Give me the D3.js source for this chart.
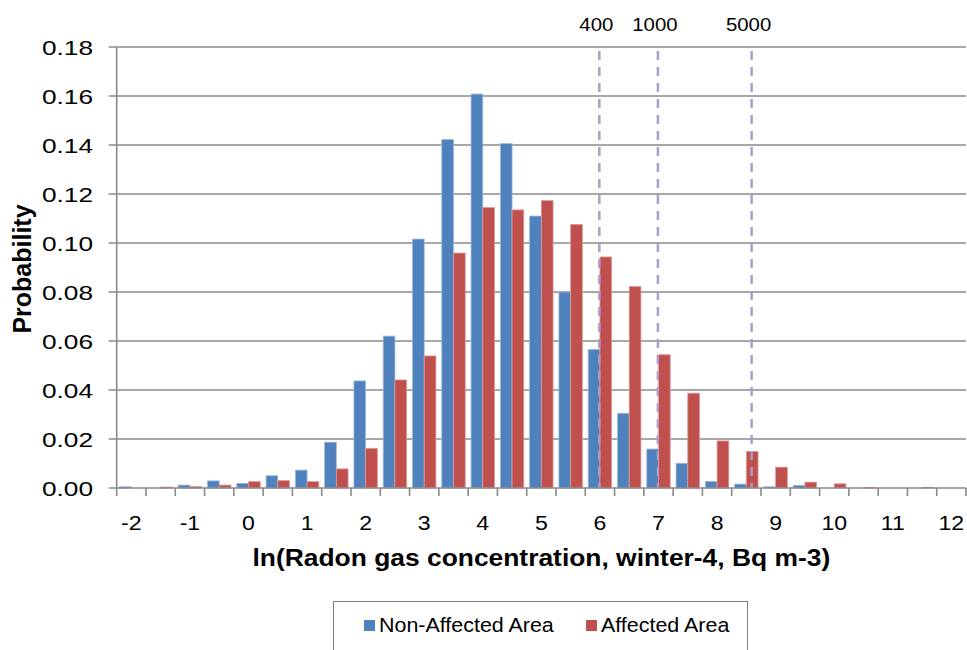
<!DOCTYPE html>
<html>
<head>
<meta charset="utf-8">
<script src="https://cdn.jsdelivr.net/npm/d3@7"></script>
<style>
  body { margin: 0; background: #fff; }
  text { font-family: "Liberation Sans", Arial, sans-serif; fill: #000; }
</style>
</head>
<body>
<div id="chart"></div>
<script>
// bins of ln(concentration), width 0.5
var categories = [-2, -1.5, -1, -0.5, 0, 0.5, 1, 1.5, 2, 2.5, 3, 3.5, 4, 4.5, 5, 5.5,
                  6, 6.5, 7, 7.5, 8, 8.5, 9, 9.5, 10, 10.5, 11, 11.5, 12];
var nonAffected = [0.0005, 0, 0.0012, 0.0029, 0.0019, 0.005, 0.0073, 0.0187, 0.0437, 0.062,
                   0.1016, 0.1422, 0.1608, 0.1406, 0.111, 0.080, 0.0565, 0.0305, 0.0159, 0.0101,
                   0.0027, 0.0016, 0.0005, 0.0011, 0, 0, 0, 0, 0];
var affected = [0, 0.0004, 0.0006, 0.0012, 0.0026, 0.003, 0.0026, 0.0078, 0.0162, 0.0441,
                0.0539, 0.0959, 0.1145, 0.1135, 0.1173, 0.1076, 0.0943, 0.0822, 0.0544, 0.0387,
                0.0192, 0.0149, 0.0085, 0.0024, 0.0017, 0.0003, 0, 0.0003, 0];
var yTicks = [0, 0.02, 0.04, 0.06, 0.08, 0.10, 0.12, 0.14, 0.16, 0.18];
var xTickLabels = [-2, -1, 0, 1, 2, 3, 4, 5, 6, 7, 8, 9, 10, 11, 12];
var refLabels = ["400", "1000", "5000"];
var refValues = [5.99, 6.99, 8.59];
var seriesNames = ["Non-Affected Area", "Affected Area"];
var seriesColors = ["#4F81BD", "#C0504D"];
var seriesStroke = ["#9fbbdc", "#dc9a98"];

(function() {
    var width = 967, height = 650;
    var pL = 116.7, pR = 966, pT = 47, pB = 488;

    var svg = d3.select("#chart").append("svg")
        .attr("width", width).attr("height", height);

    var x = d3.scaleBand().domain(categories).range([pL, pR]).padding(0);
    var bw = x.bandwidth();
    var barW = bw / 2.5;
    var xs = d3.scaleBand().domain([0, 1]).range([barW * 0.25, bw - barW * 0.25]).padding(0);
    var xc = d3.scaleLinear().domain([-2, 12]).range([x(-2) + bw / 2, x(12) + bw / 2]);
    var y = d3.scaleLinear().domain([0, 0.18]).range([pB, pT]);

    // glyphs in the picture are a bit wide, so stretch horizontally
    function label(parent, px, py, str, size, anchor, weight, sx) {
        return parent.append("text")
            .attr("transform", "translate(" + px + "," + py + ") scale(" + (sx || 1.1) + ",1)")
            .attr("text-anchor", anchor || "middle")
            .style("font-size", size + "px")
            .style("font-weight", weight || "normal")
            .text(str);
    }

    // gridlines
    svg.append("g").selectAll("line").data(yTicks.slice(1)).enter().append("line")
        .attr("x1", pL - 8).attr("x2", pR)
        .attr("y1", function(d) { return y(d); }).attr("y2", function(d) { return y(d); })
        .attr("stroke", "#8a8a8a").attr("stroke-width", 1.6);

    // bars
    var groups = svg.append("g").selectAll("g").data(categories).enter().append("g")
        .attr("transform", function(d) { return "translate(" + x(d) + ",0)"; });
    [nonAffected, affected].forEach(function(vals, s) {
        groups.append("rect")
            .attr("x", xs(s))
            .attr("width", xs.bandwidth())
            .attr("y", function(d, i) { return y(vals[i]); })
            .attr("height", function(d, i) { return pB - y(vals[i]); })
            .attr("fill", seriesColors[s])
            .attr("stroke", seriesStroke[s])
            .attr("stroke-width", 0.8);
    });

    // reference lines
    refValues.forEach(function(v, i) {
        svg.append("line")
            .attr("x1", xc(v)).attr("x2", xc(v))
            .attr("y1", 51).attr("y2", pB)
            .attr("stroke", "#ad9bcb").attr("stroke-width", 2.5)
            .attr("stroke-dasharray", "9,7");
        label(svg, xc(v) - 3, 31, refLabels[i], 18.5);
    });

    // axes
    svg.append("line").attr("x1", pL).attr("x2", pL).attr("y1", pT).attr("y2", pB)
        .attr("stroke", "#8a8a8a").attr("stroke-width", 1.6);
    svg.append("line").attr("x1", pL - 8).attr("x2", pR).attr("y1", pB).attr("y2", pB)
        .attr("stroke", "#8a8a8a").attr("stroke-width", 1.6);

    // x ticks at category boundaries
    var bounds = categories.map(function(d) { return x(d); }).concat([pR]);
    svg.append("g").selectAll("line").data(bounds).enter().append("line")
        .attr("x1", function(d) { return d; }).attr("x2", function(d) { return d; })
        .attr("y1", pB).attr("y2", pB + 8)
        .attr("stroke", "#8a8a8a").attr("stroke-width", 1.6);

    xTickLabels.forEach(function(t) {
        label(svg, x(t) + bw / 2, 530, t, 21);
    });
    yTicks.forEach(function(t) {
        label(svg, 93, y(t) + 8, t.toFixed(2), 21, "end", "normal", 1.25);
    });

    // axis titles
    label(svg, (pL + pR) / 2, 566, "ln(Radon gas concentration, winter-4, Bq m-3)", 24, "middle", "bold");
    svg.append("text")
        .attr("transform", "translate(31,269) rotate(-90)")
        .attr("text-anchor", "middle")
        .style("font-size", "25px").style("font-weight", "bold")
        .text("Probability");

    // legend
    svg.append("rect").attr("x", 333.5).attr("y", 601.5).attr("width", 414).attr("height", 70)
        .attr("fill", "none").attr("stroke", "#7f7f7f").attr("stroke-width", 1);
    var legX = [364, 586];
    seriesNames.forEach(function(n, i) {
        svg.append("rect").attr("x", legX[i]).attr("y", 620).attr("width", 11).attr("height", 11)
            .attr("fill", seriesColors[i]);
        label(svg, legX[i] + 15, 632, n, 19.5, "start");
    });
})();
</script>
</body>
</html>
